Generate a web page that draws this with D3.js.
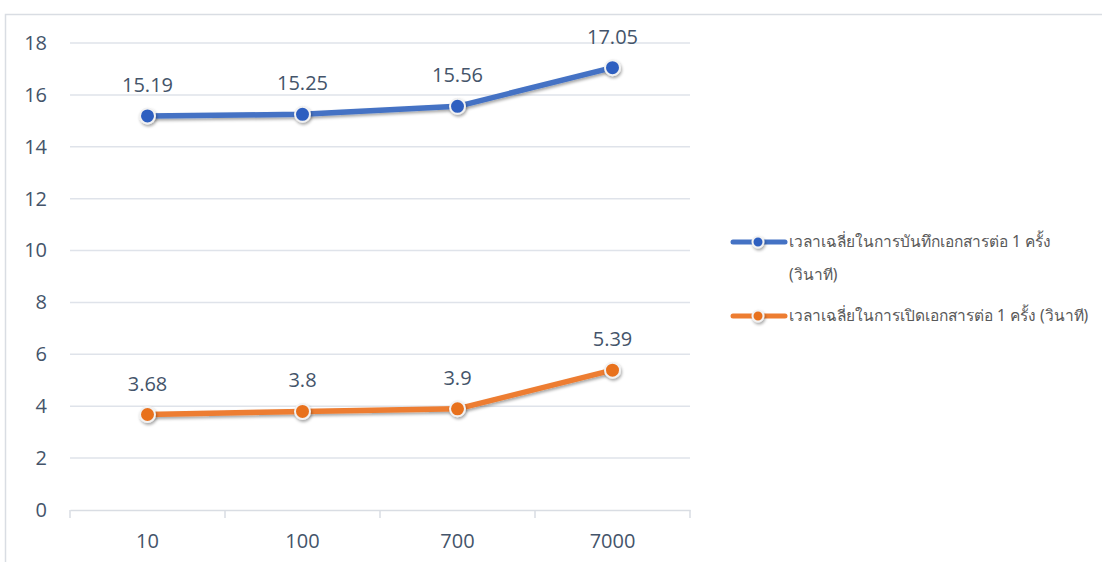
<!DOCTYPE html>
<html>
<head>
<meta charset="utf-8">
<script src="https://cdn.jsdelivr.net/npm/d3@7"></script>
<style>
  html, body { margin: 0; padding: 0; background: #fff; }
  svg { display: block; }
  text { font-family: "Open Sans", "Noto Sans", sans-serif; }
</style>
</head>
<body>
<svg id="chart" width="1102" height="562"></svg>
<script>
// Categories and series
const categories = ["10", "100", "700", "7000"];
const saveTimes = [15.19, 15.25, 15.56, 17.05];
const openTimes = [3.68, 3.8, 3.9, 5.39];
const seriesNames = [
  ["เวลาเฉลี่ยในการบันทึกเอกสารต่อ 1 ครั้ง", "(วินาที)"],
  ["เวลาเฉลี่ยในการเปิดเอกสารต่อ 1 ครั้ง (วินาที)"]
];
const yTicks = [0, 2, 4, 6, 8, 10, 12, 14, 16, 18];

const series = [
  { values: saveTimes, color: "#4472c4", marker: "#2f5fc0", name: seriesNames[0] },
  { values: openTimes, color: "#ed7d31", marker: "#e8711f", name: seriesNames[1] }
];

const svg = d3.select("#chart");
const labelFont = "'Open Sans', 'Noto Sans', sans-serif";

// Outer chart frame
svg.append("rect")
  .attr("x", 5.5).attr("y", 14.5)
  .attr("width", 1120).attr("height", 600)
  .attr("fill", "none").attr("stroke", "#d9dde3").attr("stroke-width", 1.5);

const defs = svg.append("defs");
const f = defs.append("filter").attr("id", "shadow")
  .attr("x", "-50%").attr("y", "-50%").attr("width", "200%").attr("height", "200%");
f.append("feDropShadow").attr("dx", 1).attr("dy", 2).attr("stdDeviation", 1.6)
  .attr("flood-color", "#000").attr("flood-opacity", 0.35);

const x = d3.scaleBand().domain(categories).range([70, 690]);
const y = d3.scaleLinear().domain([0, 18]).range([510, 43]);

// Gridlines
svg.append("g").selectAll("line").data(yTicks.filter(d => d > 0)).join("line")
  .attr("x1", 70).attr("x2", 690)
  .attr("y1", d => y(d)).attr("y2", d => y(d))
  .attr("stroke", "#dfe3ea").attr("stroke-width", 1.5);

// Y axis labels
const yAxis = svg.append("g").attr("transform", "translate(47,0)")
  .call(d3.axisLeft(y).tickValues(yTicks).tickSize(0).tickPadding(0));
yAxis.select(".domain").remove();
yAxis.selectAll("text").attr("fill", "#44546a").style("font-size", "20px")
  .style("font-family", labelFont);

// X axis
const xAxis = svg.append("g").attr("transform", "translate(0,510)")
  .call(d3.axisBottom(x).tickSize(0).tickPadding(24));
xAxis.select(".domain").attr("stroke", "#d9dde3").attr("stroke-width", 1.5);
xAxis.selectAll("text").attr("fill", "#44546a").style("font-size", "20px")
  .style("font-family", labelFont);
// Category boundary tick marks
svg.append("g").selectAll("line")
  .data(categories.map(c => x(c)).concat([x.range()[1]]))
  .join("line")
  .attr("x1", d => d).attr("x2", d => d)
  .attr("y1", 510).attr("y2", 518)
  .attr("stroke", "#d9dde3").attr("stroke-width", 1.5);

const cx = c => x(c) + x.bandwidth() / 2;
const line = d3.line().x((d, i) => cx(categories[i])).y(d => y(d));

series.forEach(s => {
  svg.append("path").datum(s.values)
    .attr("d", line).attr("fill", "none")
    .attr("stroke", s.color).attr("stroke-width", 5.5)
    .attr("stroke-linejoin", "round").attr("stroke-linecap", "round")
    .attr("filter", "url(#shadow)");
  svg.append("g").selectAll("circle").data(s.values).join("circle")
    .attr("cx", (d, i) => cx(categories[i])).attr("cy", d => y(d))
    .attr("r", 7.5).attr("fill", s.marker)
    .attr("stroke", "#f2f2f2").attr("stroke-width", 2)
    .attr("filter", "url(#shadow)");
  svg.append("g").selectAll("text").data(s.values).join("text")
    .attr("x", (d, i) => cx(categories[i])).attr("y", d => y(d) - 24)
    .attr("text-anchor", "middle").attr("fill", "#44546a")
    .style("font-size", "20px")
    .text(d => d);
});

// Legend
const legendY = [242, 316];
series.forEach((s, k) => {
  const g = svg.append("g").attr("transform", `translate(0,${legendY[k]})`);
  g.append("line").attr("x1", 733).attr("x2", 785).attr("y1", 0).attr("y2", 0)
    .attr("stroke", s.color).attr("stroke-width", 5).attr("stroke-linecap", "round");
  g.append("circle").attr("cx", 758).attr("cy", 0).attr("r", 5.5)
    .attr("fill", s.marker).attr("stroke", "#f2f2f2").attr("stroke-width", 2)
    .attr("filter", "url(#shadow)");
  s.name.forEach((t, j) => {
    g.append("text").attr("x", 789).attr("y", 5 + j * 33)
      .attr("fill", "#595959").style("font-size", "15.5px")
      .style("font-family", "'Noto Sans', 'DejaVu Sans', sans-serif")
      .text(t);
  });
});
</script>
</body>
</html>
